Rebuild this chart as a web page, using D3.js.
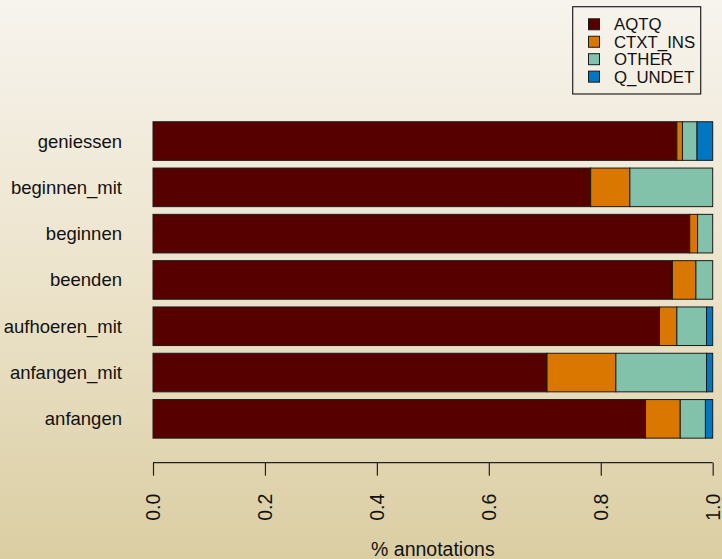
<!DOCTYPE html>
<html>
<head>
<meta charset="utf-8">
<script src="https://cdn.jsdelivr.net/npm/d3@7"></script>
<style>
  html, body { margin: 0; padding: 0; }
  body { width: 722px; height: 559px; overflow: hidden; }
  text { font-family: "Liberation Sans", Arial, Helvetica, sans-serif; fill: #111; }
</style>
</head>
<body>
<script>
// ---- data (top to bottom as drawn) ----
const categories = ["geniessen", "beginnen_mit", "beginnen", "beenden", "aufhoeren_mit", "anfangen_mit", "anfangen"];
const seriesNames = ["AQTQ", "CTXT_INS", "OTHER", "Q_UNDET"];
const AQTQ     = [0.936, 0.782, 0.959, 0.928, 0.905, 0.704, 0.880];
const CTXT_INS = [0.010, 0.070, 0.014, 0.042, 0.031, 0.123, 0.062];
const OTHER    = [0.026, 0.148, 0.027, 0.030, 0.053, 0.162, 0.045];
const Q_UNDET  = [0.028, 0.000, 0.000, 0.000, 0.011, 0.011, 0.013];
const xTicks = [0, 0.2, 0.4, 0.6, 0.8, 1.0];
const colors = ["#560000", "#d97700", "#82c2ab", "#0077c0"];

const W = 722, H = 559;
const svg = d3.select("body").append("svg").attr("width", W).attr("height", H);

// background gradient
const defs = svg.append("defs");
const grad = defs.append("linearGradient").attr("id", "bg").attr("x1", 0).attr("y1", 0).attr("x2", 0).attr("y2", 1);
grad.append("stop").attr("offset", "0%").attr("stop-color", "#f7f4ee");
grad.append("stop").attr("offset", "50%").attr("stop-color", "#ece3cb");
grad.append("stop").attr("offset", "100%").attr("stop-color", "#dbcea3");
svg.append("rect").attr("width", W).attr("height", H).attr("fill", "url(#bg)");

const x = d3.scaleLinear().domain([0, 1]).range([153, 712.7]);
const y = d3.scaleBand().domain(categories).range([117.9, 442]).paddingInner(1/6).paddingOuter(1/12);

const table = categories.map((c, i) => ({ cat: c, AQTQ: AQTQ[i], CTXT_INS: CTXT_INS[i], OTHER: OTHER[i], Q_UNDET: Q_UNDET[i] }));
const stacked = d3.stack().keys(seriesNames)(table);

const gBars = svg.append("g");
stacked.forEach((layer, k) => {
  gBars.selectAll(null).data(layer.filter(d => d[1] - d[0] > 0)).enter().append("rect")
    .attr("x", d => x(d[0]))
    .attr("y", d => y(d.data.cat))
    .attr("width", d => x(d[1]) - x(d[0]))
    .attr("height", y.bandwidth())
    .attr("fill", colors[k])
    .attr("stroke", "#1a1a1a")
    .attr("stroke-width", 1);
});

// category labels
svg.append("g").selectAll("text").data(categories).enter().append("text")
  .attr("x", 122)
  .attr("y", d => y(d) + y.bandwidth() / 2)
  .attr("dy", "0.35em")
  .attr("text-anchor", "end")
  .style("font-size", "18.5px")
  .text(d => d);

// x axis
const axisY = 462.7;
const gAxis = svg.append("g").attr("transform", `translate(0,${axisY})`)
  .call(d3.axisBottom(x).tickValues(xTicks).tickSize(13).tickFormat(d3.format(".1f")));
gAxis.select(".domain").attr("d", `M${x(0)},0H${x(1)}`).attr("stroke", "#222").attr("stroke-width", 1.2);
gAxis.selectAll(".tick line").attr("stroke", "#222").attr("stroke-width", 1.2);
gAxis.selectAll(".tick text")
  .attr("transform", "rotate(-90)")
  .attr("x", -31)
  .attr("y", 0)
  .attr("dy", "0.35em")
  .attr("text-anchor", "end")
  .style("font-size", "19.5px")
  .style("font-family", "'Liberation Sans', Arial, sans-serif")
  .attr("fill", "#111");

// axis title
svg.append("text")
  .attr("x", (x(0) + x(1)) / 2)
  .attr("y", 556)
  .attr("text-anchor", "middle")
  .style("font-size", "19.5px")
  .text("% annotations");

// legend
const lg = svg.append("g");
lg.append("rect").attr("x", 572.7).attr("y", 6.7).attr("width", 128).attr("height", 87.3)
  .attr("fill", "none").attr("stroke", "#222").attr("stroke-width", 1.2);
seriesNames.forEach((s, i) => {
  const cy = 24.3 + i * 17.45;
  lg.append("rect").attr("x", 588.5).attr("y", cy - 5.5).attr("width", 11).attr("height", 11)
    .attr("fill", colors[i]).attr("stroke", "#1a1a1a").attr("stroke-width", 1);
  lg.append("text").attr("x", 614).attr("y", cy).attr("dy", "0.36em")
    .style("font-size", "16.8px").text(s);
});
</script>
</body>
</html>
